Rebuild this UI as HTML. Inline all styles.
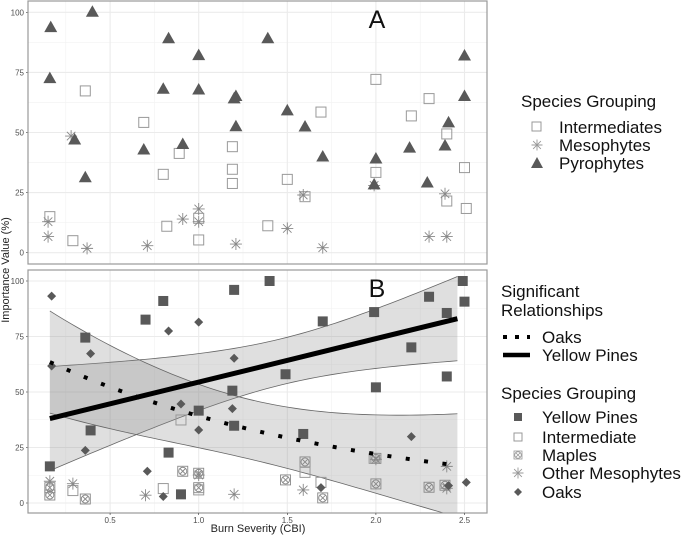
<!DOCTYPE html>
<html><head><meta charset="utf-8"><style>
body{margin:0;background:#fff;}
svg{display:block;font-family:"Liberation Sans",Arial,sans-serif;}
</style></head><body>
<svg id="chart" width="685" height="538" viewBox="0 0 685 538" xmlns="http://www.w3.org/2000/svg">
<g id="gA"></g>
<g id="gB"></g>
<text x="9" y="270" transform="rotate(-90 9 270)" text-anchor="middle" font-size="11" fill="#222">Importance Value (%)</text>
<text x="258" y="532" text-anchor="middle" font-size="11" fill="#222">Burn Severity (CBI)</text>
<g font-size="17" fill="#111">
<text x="521" y="107">Species Grouping</text>
<rect x="532" y="122" width="9" height="9" fill="none" stroke="#999"/>
<text x="559" y="133">Intermediates</text>
<g id="legAst"></g>
<text x="559" y="151">Mesophytes</text>
<polygon points="537,157 543,168 531,168" fill="#595959"/>
<text x="559" y="169">Pyrophytes</text>
</g>
<g font-size="17" fill="#111">
<text x="501" y="297">Significant</text>
<text x="501" y="316">Relationships</text>
<line x1="503" y1="337" x2="530" y2="337" stroke="#000" stroke-width="4" stroke-dasharray="4,8"/>
<text x="542" y="343">Oaks</text>
<line x1="503" y1="355" x2="530" y2="355" stroke="#000" stroke-width="4.5"/>
<text x="542" y="361">Yellow Pines</text>
<text x="501" y="399">Species Grouping</text>
<rect x="514" y="413" width="8" height="8" fill="#595959"/>
<text x="542" y="423">Yellow Pines</text>
<rect x="514" y="433" width="8" height="8" fill="none" stroke="#999"/>
<text x="542" y="443">Intermediate</text>
<g id="legMaple"></g>
<text x="542" y="461">Maples</text>
<g id="legAst2"></g>
<text x="542" y="479">Other Mesophytes</text>
<polygon points="518,488 522,492 518,496 514,492" fill="#595959"/>
<text x="542" y="498">Oaks</text>
</g>
</svg>
<script>
// Panel A data
const pyroX=[0.165,0.16,0.40,0.30,0.36,0.69,0.80,0.83,0.91,1.0,1.0,1.21,1.20,1.21,1.39,1.5,1.60,1.70,2.0,1.99,2.19,2.29,2.41,2.39,2.5,2.5];
const pyroY=[93.6,72.4,100,46.9,31.2,42.7,68,89,45,82,67.7,65,64,52.4,89,59,52.3,39.8,39,28.2,43.5,29,54,44.4,81.8,65];
const interX=[0.16,0.29,0.36,0.69,0.80,0.82,0.89,1.0,1.0,1.19,1.19,1.19,1.39,1.5,1.69,1.6,2.0,2.0,2.20,2.30,2.40,2.40,2.50,2.51];
const interY=[15,5,67.3,54.2,32.6,11,41.3,14.3,5.3,44.1,34.7,28.8,11.2,30.5,58.5,23.3,72.1,33.4,56.9,64.1,49.4,21.5,35.4,18.4];
const mesoX=[0.15,0.15,0.28,0.37,0.71,0.91,1.0,1.0,1.21,1.59,1.5,1.70,1.99,2.39,2.30,2.40];
const mesoY=[12.9,6.7,48.5,1.8,2.9,14,18.2,12.9,3.6,24,10.1,2.1,28,24.5,6.7,6.7];
// Panel B data
const pineX=[0.16,0.36,0.39,0.70,0.80,0.83,0.90,1.0,1.20,1.19,1.20,1.40,1.70,1.49,1.59,1.99,2.0,2.20,2.30,2.40,2.40,2.49,2.50];
const pineY=[16.5,74.5,32.7,82.6,91,22.7,3.9,41.6,96,50.6,34.8,100,81.8,58,31.1,86,52.1,70.1,92.9,85.6,57,100,90.7];
const oakX=[0.17,0.17,0.39,0.36,0.71,0.80,0.83,0.90,1.0,1.0,1.20,1.19,1.69,2.20,2.41,2.51];
const oakY=[93.2,61.7,67.3,23.7,14.3,2.9,77.5,44.6,81.5,32.9,65.2,42.5,6.9,29.9,7.8,9.3];
const intBX=[0.29,0.80,0.90,1.0,1.60,1.69,1.99];
const intBY=[5.6,6.5,37.4,5.9,13.8,9.3,20.1];
const mapleX=[0.16,0.16,0.36,0.91,1.0,1.0,1.49,1.60,1.70,2.0,2.0,2.30,2.39];
const mapleY=[3.6,6.9,1.8,14.3,13.4,6.9,10.4,18.5,2.3,8.6,20.1,7.1,8.0];
const omesoX=[0.16,0.29,0.70,1.0,1.20,1.59,2.0,2.40,2.40];
const omesoY=[9.8,8.7,3.5,12.6,3.9,5.9,19.7,16.5,6.6];
// Fitted trends
const pineFit=[34.9,19.57];      // intercept, slope
const oakFit=[63.5*Math.exp(0.575*0.16),-0.575]; // A, k (exponential)
const fitRange=[0.16,2.46];
const xTicks=[0.5,1.0,1.5,2.0,2.5];
const yTicks=[0,25,50,75,100];

const NS="http://www.w3.org/2000/svg";
const L=28,R=487;
const sx=v=>21.5+177.2*v;
const panels={A:{top:1,bot:264,y0:252.7,s:2.404},B:{top:270,bot:513,y0:503,s:2.22}};
function mk(tag,at,parent){const e=document.createElementNS(NS,tag);for(const k in at)e.setAttribute(k,at[k]);parent.appendChild(e);return e;}
function ast(g,cx,cy,r,col){const p=[];for(let i=0;i<4;i++){const a=i*Math.PI/4;p.push(`M${cx-r*Math.cos(a)},${cy-r*Math.sin(a)}L${cx+r*Math.cos(a)},${cy+r*Math.sin(a)}`);}return mk('path',{d:p.join(''),stroke:col,'stroke-width':0.9,fill:'none'},g);}

function frame(g,P,lbl){
  mk('rect',{x:L,y:P.top,width:R-L,height:P.bot-P.top,fill:'#fff'},g);
  const sy=v=>P.y0-P.s*v;
  for(let v=12.5;v<100;v+=25){mk('line',{x1:L,x2:R,y1:sy(v),y2:sy(v),stroke:'#f2f2f2','stroke-width':0.6},g);}
  for(let v=0.25;v<2.6;v+=0.5){mk('line',{x1:sx(v),x2:sx(v),y1:P.top,y2:P.bot,stroke:'#f2f2f2','stroke-width':0.6},g);}
  yTicks.forEach(v=>{mk('line',{x1:L,x2:R,y1:sy(v),y2:sy(v),stroke:'#ebebeb','stroke-width':1.1},g);
    const t=mk('text',{x:L-4,y:sy(v)+3,'text-anchor':'end','font-size':8,fill:'#4d4d4d'},g);t.textContent=v;
    
    
    mk('line',{x1:L-2,x2:L,y1:sy(v),y2:sy(v),stroke:'#333','stroke-width':0.6},g);});
  xTicks.forEach(v=>{mk('line',{x1:sx(v),x2:sx(v),y1:P.top,y2:P.bot,stroke:'#ebebeb','stroke-width':1.1},g);});
  const lab=mk('text',{x:377,y:P.top+27,'text-anchor':'middle','font-size':25,fill:'#111'},g);lab.textContent=lbl;
  
  
  return sy;
}
function border(g,P){mk('rect',{x:L,y:P.top,width:R-L,height:P.bot-P.top,fill:'none',stroke:'#999','stroke-width':1.2},g);}

// Panel A
const gA=document.getElementById('gA');
const syA=frame(gA,panels.A,'A');
interX.forEach((x,i)=>{const r=mk('rect',{x:sx(x)-5,y:syA(interY[i])-5,width:10,height:10,fill:'none',stroke:'#999','stroke-width':1},gA);
  
  });
mesoX.forEach((x,i)=>{const a=ast(gA,sx(x),syA(mesoY[i]),6,'#888');
  
  });
pyroX.forEach((x,i)=>{const cx=sx(x),cy=syA(pyroY[i]);const p=mk('polygon',{points:`${cx},${cy-7} ${cx+6.5},${cy+4.5} ${cx-6.5},${cy+4.5}`,fill:'#595959'},gA);
  
  });
border(gA,panels.A);

// Panel B
const gB=document.getElementById('gB');
const PB=panels.B;
const syB=frame(gB,PB,'B');
const pineF=x=>pineFit[0]+pineFit[1]*x;
const oakF=x=>oakFit[0]*Math.exp(oakFit[1]*x);
const hP=x=>Math.sqrt(108+257*(x-1.47)**2);
const hO=x=>Math.sqrt(180+268.6*(x-1.3)**2);
const clipId='clipB';
const cp=mk('clipPath',{id:clipId},gB);mk('rect',{x:L,y:PB.top,width:R-L,height:PB.bot-PB.top},cp);
function band(f,h,name){const xs=[];for(let i=0;i<=60;i++)xs.push(fitRange[0]+(fitRange[1]-fitRange[0])*i/60);
  const up=xs.map(x=>[sx(x),syB(f(x)+h(x))]),lo=xs.map(x=>[sx(x),syB(f(x)-h(x))]);
  const poly=up.concat(lo.slice().reverse());
  const b=mk('path',{d:'M'+poly.map(p=>p.join(',')).join('L')+'Z',fill:'#8c8c8c','fill-opacity':0.28,stroke:'none','clip-path':`url(#${clipId})`},gB);
  
  
  mk('path',{d:'M'+up.map(p=>p.join(',')).join('L'),fill:'none',stroke:'#666','stroke-width':0.8,'clip-path':`url(#${clipId})`},gB);
  mk('path',{d:'M'+lo.map(p=>p.join(',')).join('L'),fill:'none',stroke:'#666','stroke-width':0.8,'clip-path':`url(#${clipId})`},gB);
  return xs;}
const xsP=band(pineF,hP,'pines');band(oakF,hO,'oaks');
mapleX.forEach((x,i)=>{const cx=sx(x),cy=syB(mapleY[i]);const g=mk('g',{},gB);
  
  
  mk('rect',{x:cx-5,y:cy-5,width:10,height:10,fill:'none',stroke:'#888','stroke-width':0.9},g);
  mk('circle',{cx:cx,cy:cy,r:4,fill:'none',stroke:'#888','stroke-width':0.9},g);
  mk('path',{d:`M${cx-3},${cy-3}L${cx+3},${cy+3}M${cx+3},${cy-3}L${cx-3},${cy+3}`,stroke:'#888','stroke-width':0.9},g);});
intBX.forEach((x,i)=>{const r=mk('rect',{x:sx(x)-5,y:syB(intBY[i])-5,width:10,height:10,fill:'none',stroke:'#999','stroke-width':1},gB);
  
  });
omesoX.forEach((x,i)=>{const a=ast(gB,sx(x),syB(omesoY[i]),6,'#888');
  
  });
pineX.forEach((x,i)=>{const r=mk('rect',{x:sx(x)-5,y:syB(pineY[i])-5,width:10,height:10,fill:'#595959'},gB);
  
  });
oakX.forEach((x,i)=>{const cx=sx(x),cy=syB(oakY[i]);const p=mk('polygon',{points:`${cx},${cy-4.5} ${cx+4.5},${cy} ${cx},${cy+4.5} ${cx-4.5},${cy}`,fill:'#595959'},gB);
  
  });
const pl=mk('line',{x1:sx(fitRange[0]),y1:syB(pineF(fitRange[0])),x2:sx(fitRange[1]),y2:syB(pineF(fitRange[1])),stroke:'#000','stroke-width':5},gB);


const ol=mk('path',{d:'M'+xsP.map(x=>sx(x)+','+syB(oakF(x))).join('L'),fill:'none',stroke:'#000','stroke-width':4,'stroke-dasharray':'4,14.5'},gB);


border(gB,PB);
xTicks.forEach(v=>{mk('line',{x1:sx(v),x2:sx(v),y1:PB.bot,y2:PB.bot+2,stroke:'#333','stroke-width':0.6},gB);
  const t=mk('text',{x:sx(v),y:PB.bot+10,'text-anchor':'middle','font-size':8,fill:'#4d4d4d'},gB);t.textContent=v.toFixed(1);
  
  });
// legend symbols
ast(document.getElementById('legAst'),537,145,5.5,'#999');
ast(document.getElementById('legAst2'),518,473,5.5,'#999');
const lm=document.getElementById('legMaple');
mk('rect',{x:514,y:451,width:8,height:8,fill:'none',stroke:'#999','stroke-width':0.8},lm);
mk('circle',{cx:518,cy:455,r:3.3,fill:'none',stroke:'#999','stroke-width':0.8},lm);
mk('path',{d:'M515.5,452.5L520.5,457.5M520.5,452.5L515.5,457.5',stroke:'#999','stroke-width':0.8},lm);
</script>
</body></html>
